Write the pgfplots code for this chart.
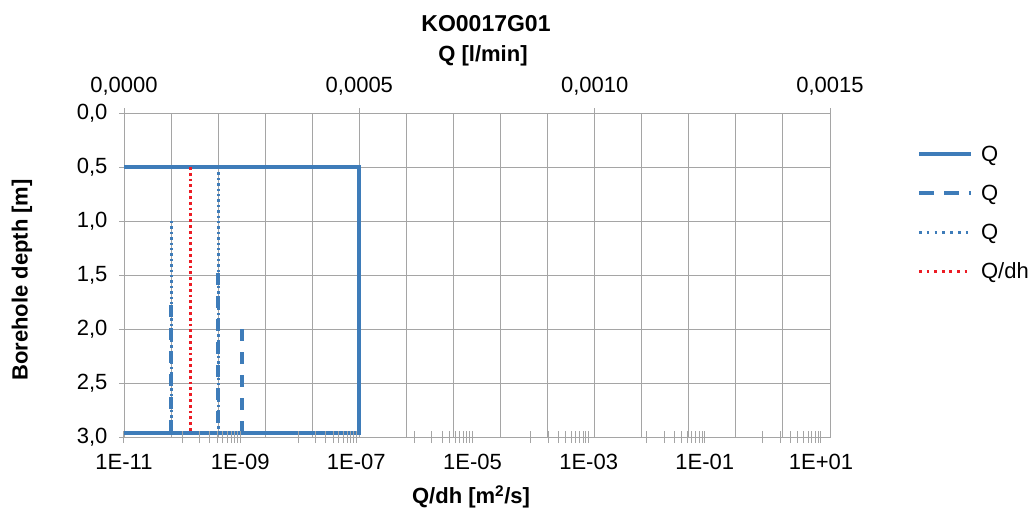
\documentclass[border=0pt]{standalone}
\usepackage{fontspec}
\setmainfont{Liberation Sans}
\usepackage{pgfplots}
\pgfplotsset{compat=1.18}

\definecolor{qblue}{RGB}{62,124,185}
\definecolor{qred}{RGB}{236,28,36}
\definecolor{gridgray}{RGB}{165,165,165}

\newcommand{\chartfont}{\fontsize{22}{26}\selectfont}

\begin{document}
\begin{tikzpicture}
\useasboundingbox (0pt,0pt) rectangle (1030pt,-511pt);

% Flow axis (top, linear) carrying the depth scale
\begin{axis}[
  at={(124pt,-437pt)}, anchor=south west,
  scale only axis, width=706pt, height=324pt,
  xmin=0, xmax=0.0015, ymin=0, ymax=3, y dir=reverse,
  xtick={0,0.0005,0.001,0.0015},
  minor xtick={0.0001,0.0002,0.0003,0.0004,0.0006,0.0007,0.0008,0.0009,0.0011,0.0012,0.0013,0.0014},
  ytick={0,0.5,1,1.5,2,2.5,3},
  scaled x ticks=false,
  grid=both,
  major grid style={gridgray, line width=1pt},
  minor grid style={gridgray, line width=1pt},
  axis line style={gridgray, line width=1pt},
  tick style={gridgray, line width=1pt},
  xtick pos=right, xticklabel pos=right,
  ytick pos=left, yticklabel pos=left,
  major tick length=5pt, minor tick length=0pt,
  tick align=outside,
  /pgf/number format/assume math mode=true,
  ticklabel style={font=\chartfont, text=black},
  xticklabel style={yshift=9pt, /pgf/number format/.cd, fixed, fixed zerofill, precision=4, use comma},
  yticklabel style={xshift=-8pt, /pgf/number format/.cd, fixed, fixed zerofill, precision=1, use comma},
  legend cell align=left,
  legend image code/.code={\draw[#1] (0pt,0pt) -- (52pt,0pt);},
  legend style={at={(axis description cs:1.123,0.905)}, anchor=north west,
    draw=none, fill=none, font=\chartfont, inner sep=0pt, row sep=18pt,
    /tikz/every odd column/.append style={column sep=6pt}},
]
% measured flow, upper limit box
\addplot[qblue, line width=4pt] coordinates {(0,0.5) (0.0005,0.5) (0.0005,2.96) (0,2.96)};
\addlegendentry{Q}
% flow, dashed series
\addplot[qblue, line width=3.8pt, dash pattern=on 12pt off 11pt,
  legend image post style={dash pattern=on 15pt off 10pt}] coordinates {(0.00025,2.0) (0.00025,2.95)};
\addlegendentry{Q}
\addplot[qblue, line width=3.8pt, dash pattern=on 12pt off 11pt, forget plot] coordinates {(0.0002,1.48) (0.0002,2.95)};
\addplot[qblue, line width=3.8pt, dash pattern=on 12pt off 11pt, forget plot] coordinates {(0.0001,1.78) (0.0001,2.95)};
% flow, dotted series
\addplot[qblue, line width=3pt, dash pattern=on 2.4pt off 3pt,
  legend image post style={dash pattern=on 2.6pt off 5.2pt}] coordinates {(0.0001,1.0) (0.0001,2.95)};
\addlegendentry{Q}
\addplot[qblue, line width=3pt, dash pattern=on 2.4pt off 3pt, forget plot] coordinates {(0.0002,0.55) (0.0002,2.95)};
\addlegendimage{qred, line width=3.2pt, dash pattern=on 2.8pt off 4.8pt}
\addlegendentry{Q/dh}
\end{axis}

% Specific capacity axis (bottom, logarithmic)
\begin{axis}[
  at={(124pt,-437pt)}, anchor=south west,
  scale only axis, width=706pt, height=324pt,
  xmode=log, xmin=1e-11, xmax=14.3, ymin=0, ymax=3, y dir=reverse,
  axis x line*=bottom, axis y line=none,
  xtick={1e-11,1e-9,1e-7,1e-5,1e-3,1e-1,1e1},
  xticklabels={1E-11,1E-09,1E-07,1E-05,1E-03,1E-01,1E+01},
  minor xtick={1e-10,2e-10,3e-10,4e-10,5e-10,6e-10,7e-10,8e-10,9e-10,
    1e-8,2e-8,3e-8,4e-8,5e-8,6e-8,7e-8,8e-8,9e-8,
    1e-6,2e-6,3e-6,4e-6,5e-6,6e-6,7e-6,8e-6,9e-6,
    1e-4,2e-4,3e-4,4e-4,5e-4,6e-4,7e-4,8e-4,9e-4,
    1e-2,2e-2,3e-2,4e-2,5e-2,6e-2,7e-2,8e-2,9e-2,
    1,2,3,4,5,6,7,8,9},
  axis line style={gridgray, line width=1pt},
  tick style={gridgray, line width=1pt},
  tick align=center, major tick length=12pt, minor tick length=12pt,
  ticklabel style={font=\chartfont, text=black},
  xticklabel style={yshift=-8pt},
]
\addplot[qred, line width=3.2pt, dash pattern=on 2.8pt off 3pt] coordinates {(1.4e-10,0.5) (1.4e-10,2.94)};
\end{axis}

\node[font=\bfseries\fontsize{23}{27}\selectfont] at (486pt,-24pt) {KO0017G01};
\node[font=\bfseries\chartfont] at (483pt,-56pt) {Q [l/min]};
\node[font=\bfseries\chartfont] at (471pt,-497pt) {Q/dh [m\textsuperscript{2}/s]};
\node[font=\bfseries\chartfont, rotate=90] at (22pt,-280pt) {Borehole depth [m]};
\end{tikzpicture}
\end{document}
